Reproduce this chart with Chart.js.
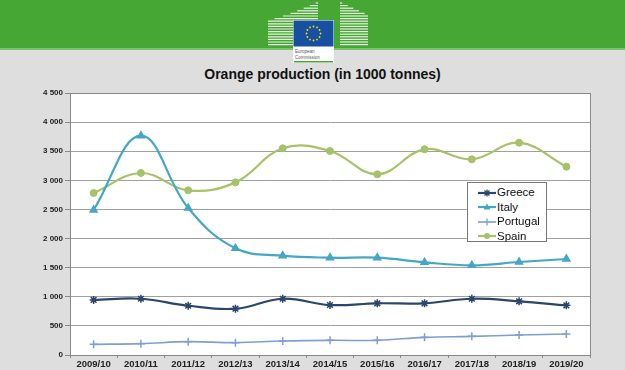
<!DOCTYPE html>
<html>
<head>
<meta charset="utf-8">
<script src="https://cdn.jsdelivr.net/npm/chart.js@4"></script>
<style>
  html,body{margin:0;padding:0;}
  body{width:625px;height:370px;overflow:hidden;background:#dedede;position:relative;font-family:"Liberation Sans",Arial,sans-serif;}
  #hdr{position:absolute;left:0;top:0;width:625px;height:48px;background:#47a735;}
  #hdr2{position:absolute;left:0;top:48px;width:625px;height:2px;background:#7cc26c;}
  #logo{position:absolute;left:0;top:0;}
  #c{position:absolute;left:0;top:0;}
  #title{position:absolute;left:0;top:65px;width:645px;text-align:center;font-weight:bold;font-size:14px;line-height:18px;color:#111;}
  #legend{position:absolute;left:467px;top:182px;width:78px;height:58px;background:#fff;border:1px solid #777;font-size:11.5px;color:#111;}
  #legend .it{position:absolute;left:10px;height:15px;line-height:15px;white-space:nowrap;}
  #legend svg{vertical-align:middle;margin-right:1px;}
</style>
</head>
<body>
<div id="hdr"></div>
<div id="hdr2"></div>
<svg id="logo" width="625" height="70" xmlns="http://www.w3.org/2000/svg">
  <g stroke="#e6f4e2" stroke-width="1.2" id="bl"></g>
  <g stroke="#e6f4e2" stroke-width="1.2" id="br"></g>
  <rect x="293" y="20" width="41" height="43" fill="#ffffff"/>
  <rect x="293.5" y="20.5" width="40" height="26" fill="#17509f"/>
  <g id="stars" fill="#ffdd00"></g>
  <text x="295" y="53" font-size="4.5" fill="#555" font-family="Liberation Sans, Arial">European</text>
  <text x="295" y="58.5" font-size="4.5" fill="#555" font-family="Liberation Sans, Arial">Commission</text>
  <rect x="294" y="61" width="39" height="1.5" fill="#47a735"/>
</svg>
<div id="title"></div>
<canvas id="c" width="625" height="370"></canvas>
<div id="legend"></div>
<script>
// ---- data ----
const categories = ['2009/10','2010/11','2011/12','2012/13','2013/14','2014/15','2015/16','2016/17','2017/18','2018/19','2019/20'];
const greece   = [945, 966, 846, 795, 966, 859, 888, 888, 966, 922, 853];
const italy    = [2490, 3767, 2524, 1832, 1706, 1671, 1671, 1591, 1540, 1597, 1649];
const portugal = [183, 195, 229, 212, 240, 252, 252, 303, 320, 343, 360];
const spain    = [2782, 3126, 2828, 2965, 3550, 3504, 3103, 3533, 3361, 3647, 3235];
const seriesNames = ['Greece','Italy','Portugal','Spain'];
const yTicks = [0, 500, 1000, 1500, 2000, 2500, 3000, 3500, 4000, 4500];
const titleText = 'Orange production (in 1000 tonnes)';

document.getElementById('title').textContent = titleText;

// ---- logo decoration ----
(function(){
  const ns='http://www.w3.org/2000/svg';
  const bl=document.getElementById('bl'), br=document.getElementById('br');
  for(let y=3;y<=47;y+=2.6){
    const x1 = y<20 ? 268 + Math.pow((20-y)/18,0.8)*50 : 268;
    if(x1<317){
      const l=document.createElementNS(ns,'line');
      l.setAttribute('x1',x1);l.setAttribute('x2',318);l.setAttribute('y1',y);l.setAttribute('y2',y);bl.appendChild(l);
    }
    const x2 = y<15 ? 340 + (y-2)/13*28 : 368;
    if(x2>341){
      const r=document.createElementNS(ns,'line');
      r.setAttribute('x1',340);r.setAttribute('x2',x2);r.setAttribute('y1',y);r.setAttribute('y2',y);br.appendChild(r);
    }
  }
  const st=document.getElementById('stars');
  for(let k=0;k<12;k++){
    const a=k*Math.PI/6;
    const c=document.createElementNS(ns,'circle');
    c.setAttribute('cx',313.5+7*Math.cos(a));c.setAttribute('cy',33.5+7*Math.sin(a));c.setAttribute('r',0.9);
    st.appendChild(c);
  }
})();

const colors = ['#2a466d','#43a7c6','#7e9fd2','#a6c36a'];
const styles = ['star','triangle','cross','circle'];
const values = [greece, italy, portugal, spain];
const widths = [2.2, 2.2, 1.6, 2.2];

const bgPlugin = {
  id:'plotbg',
  beforeDraw(chart){
    const {ctx, chartArea:a} = chart;
    ctx.save();
    ctx.fillStyle='#ffffff';
    ctx.fillRect(a.left,a.top,a.right-a.left,a.bottom-a.top);
    ctx.restore();
  },
  afterDraw(chart){
    const {ctx, chartArea:a} = chart;
    ctx.save();
    ctx.strokeStyle='#888';
    ctx.lineWidth=1;
    ctx.strokeRect(Math.round(a.left)+0.5,Math.round(a.top)+0.5,Math.round(a.right-a.left),Math.round(a.bottom-a.top));
    ctx.restore();
  }
};

const fmt = v => String(v).replace(/\B(?=(\d{3})+(?!\d))/g,' ');

const chart = new Chart(document.getElementById('c'), {
  type:'line',
  data:{
    labels:categories,
    datasets:seriesNames.map((n,i)=>({
      label:n,
      data:values[i],
      borderColor:colors[i],
      backgroundColor:colors[i],
      pointBorderColor:colors[i],
      pointBackgroundColor:colors[i],
      pointStyle:styles[i],
      pointRadius: styles[i]==='circle'?3.5:4,
      pointBorderWidth: styles[i]==='circle'?1:1.5,
      borderWidth:widths[i],
      tension:0.4,
      fill:false
    }))
  },
  options:{
    responsive:false,
    animation:false,
    devicePixelRatio:1,
    layout:{padding:{top:93,left:0,right:35,bottom:0}},
    plugins:{
      legend:{display:false},
      tooltip:{enabled:false},
      title:{display:false}
    },
    scales:{
      x:{
        offset:true,
        grid:{display:true,drawOnChartArea:false,drawTicks:true,tickLength:3,color:'#888',offset:true},
        border:{display:true,color:'#888'},
        ticks:{color:'#222',padding:1,maxRotation:0,autoSkip:false,
          font:{family:'"Liberation Sans", Arial, sans-serif',size:9.5,weight:'bold'}},
        afterFit(s){ s.height=15; }
      },
      y:{
        min:0,max:4500,
        afterBuildTicks(s){ s.ticks = yTicks.map(v=>({value:v})); },
        grid:{color:'#a0a0a0',borderDash:[2,1],drawTicks:true,tickLength:5,tickColor:'#888',tickBorderDash:[]},
        border:{display:true,color:'#888'},
        ticks:{color:'#222',padding:2,callback:v=>fmt(v),
          font:{family:'"Liberation Sans", Arial, sans-serif',size:8,weight:'bold'}},
        afterFit(s){ s.width=70; }
      }
    }
  },
  plugins:[bgPlugin]
});

// ---- legend (HTML, built from datasets) ----
(function(){
  const lg=document.getElementById('legend');
  chart.data.datasets.forEach((d,i)=>{
    const div=document.createElement('div');
    div.className='it';
    div.style.top=(2+i*14.5)+'px';
    let m='';
    const c=d.borderColor;
    if(d.pointStyle==='star') m=`<path d="M9 2.5V9.5M5.5 6H12.5M6.5 3.5L11.5 8.5M11.5 3.5L6.5 8.5" stroke="${c}" stroke-width="1.3"/>`;
    else if(d.pointStyle==='triangle') m=`<path d="M9 2.5L12.5 8.5H5.5Z" fill="${c}"/>`;
    else if(d.pointStyle==='cross') m=`<path d="M9 2.5V9.5" stroke="${c}" stroke-width="1.3"/>`;
    else m=`<circle cx="9" cy="6" r="3" fill="${c}"/>`;
    div.innerHTML=`<svg width="18" height="12"><line x1="0" y1="6" x2="18" y2="6" stroke="${c}" stroke-width="${d.borderWidth}"/>${m}</svg>${d.label}`;
    lg.appendChild(div);
  });
})();
</script>
</body>
</html>
